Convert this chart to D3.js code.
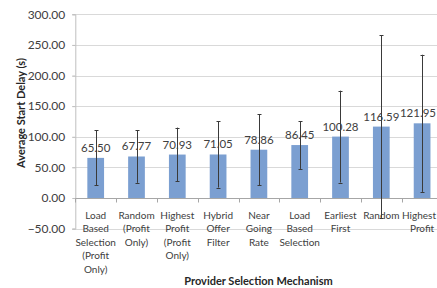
<!DOCTYPE html>
<html>
<head>
<meta charset="utf-8">
<script src="https://cdn.jsdelivr.net/npm/d3@7"></script>
<style>
  body { margin: 0; background: #fff; }
  svg { display: block; font-family: Lato, "Open Sans", sans-serif; }
</style>
</head>
<body>
<div id="chart"></div>
<script>
// category labels, split into lines
var categories = [
  ["Load", "Based", "Selection", "(Profit", "Only)"],
  ["Random", "(Profit", "Only)"],
  ["Highest", "Profit", "(Profit", "Only)"],
  ["Hybrid", "Offer", "Filter"],
  ["Near", "Going", "Rate"],
  ["Load", "Based", "Selection"],
  ["Earliest", "First"],
  ["Random"],
  ["Highest", "Profit"]
];
var values = [65.50, 67.77, 70.93, 71.05, 78.86, 86.45, 100.28, 116.59, 121.95];
var errors = [45, 43, 44, 54, 58, 39, 75, 149, 112];
var yTicks = [-50, 0, 50, 100, 150, 200, 250, 300];

var svgWidth = 437;
var svgHeight = 288;

var svg = d3.select("#chart")
  .append("svg")
  .attr("width", svgWidth)
  .attr("height", svgHeight);

var plotLeft = 75.3;
var band = 40.8;

var x = d3.scaleBand()
  .domain(d3.range(categories.length))
  .range([plotLeft, plotLeft + band * categories.length])
  .paddingInner(0.59)
  .paddingOuter(0.295);

var y = d3.scaleLinear()
  .domain([-50, 300])
  .range([228.6, 14.3]);

var xRight = plotLeft + band * categories.length;

// keeps a middle-anchored text inside the window
function keepInside(sel) {
  sel.each(function() {
    var w = this.getComputedTextLength();
    var cx = +this.getAttribute("x");
    if (cx + w / 2 > svgWidth - 1) {
      this.setAttribute("x", svgWidth - 1 - w / 2);
    }
  });
}

// gridlines
svg.append("g")
  .selectAll("line")
  .data(yTicks.filter(d => d !== 0))
  .enter()
  .append("line")
  .attr("x1", plotLeft - 3)
  .attr("x2", xRight)
  .attr("y1", d => Math.round(y(d)) + 0.5)
  .attr("y2", d => Math.round(y(d)) + 0.5)
  .attr("stroke", "#d9d9d9")
  .attr("stroke-width", 1);

// y axis
var yAxis = d3.axisLeft(y)
  .tickValues(yTicks)
  .tickSize(3)
  .tickPadding(7)
  .tickFormat(d3.format(".2f"));

var yG = svg.append("g")
  .attr("transform", `translate(${plotLeft}, 0)`)
  .call(yAxis);
yG.select(".domain").attr("stroke", "#bfbfbf");
yG.selectAll(".tick line").attr("stroke", "#bfbfbf");
yG.selectAll(".tick text")
  .attr("fill", "#404040")
  .style("font-size", "12px")
  .style("font-family", "Lato, sans-serif");

// bars
svg.append("g")
  .selectAll("rect")
  .data(values)
  .enter()
  .append("rect")
  .attr("x", (d, i) => x(i))
  .attr("width", x.bandwidth())
  .attr("y", d => y(d))
  .attr("height", d => y(0) - y(d))
  .attr("fill", "#7b9fd1");

// zero axis with category ticks
var zeroY = Math.round(y(0)) + 0.5;
svg.append("line")
  .attr("x1", plotLeft)
  .attr("x2", xRight)
  .attr("y1", zeroY)
  .attr("y2", zeroY)
  .attr("stroke", "#a6a6a6");

svg.append("g")
  .selectAll("line")
  .data(d3.range(categories.length + 1))
  .enter()
  .append("line")
  .attr("x1", i => Math.round(plotLeft + i * band) + 0.5)
  .attr("x2", i => Math.round(plotLeft + i * band) + 0.5)
  .attr("y1", zeroY)
  .attr("y2", zeroY + 4)
  .attr("stroke", "#a6a6a6");

// error bars
var eb = svg.append("g")
  .selectAll("g")
  .data(values)
  .enter()
  .append("g")
  .attr("stroke", "#3a3a3a")
  .attr("stroke-width", 1);

var cx = i => Math.round(x(i) + x.bandwidth() / 2) + 0.5;

eb.append("line")
  .attr("x1", (d, i) => cx(i))
  .attr("x2", (d, i) => cx(i))
  .attr("y1", (d, i) => y(d + errors[i]))
  .attr("y2", (d, i) => y(d - errors[i]));
eb.append("line")
  .attr("x1", (d, i) => cx(i) - 2)
  .attr("x2", (d, i) => cx(i) + 2)
  .attr("y1", (d, i) => Math.round(y(d + errors[i])) + 0.5)
  .attr("y2", (d, i) => Math.round(y(d + errors[i])) + 0.5);
eb.append("line")
  .attr("x1", (d, i) => cx(i) - 2)
  .attr("x2", (d, i) => cx(i) + 2)
  .attr("y1", (d, i) => Math.round(y(d - errors[i])) + 0.5)
  .attr("y2", (d, i) => Math.round(y(d - errors[i])) + 0.5);

// value labels
svg.append("g")
  .selectAll("text")
  .data(values)
  .enter()
  .append("text")
  .attr("x", (d, i) => x(i) + x.bandwidth() / 2)
  .attr("y", d => y(d) - 6)
  .attr("text-anchor", "middle")
  .attr("fill", "#404040")
  .style("font-size", "11.5px")
  .text(d => d.toFixed(2))
  .call(keepInside);

// category labels
var catG = svg.append("g")
  .selectAll("text")
  .data(categories)
  .enter()
  .append("text")
  .attr("text-anchor", "middle")
  .attr("fill", "#404040")
  .style("font-size", "10px");

catG.selectAll("tspan")
  .data((d, i) => d.map(t => ({ t: t, i: i })))
  .enter()
  .append("tspan")
  .attr("x", d => x(d.i) + x.bandwidth() / 2)
  .attr("y", (d, j) => 219 + j * 13.4)
  .text(d => d.t)
  .call(keepInside);

// axis titles
svg.append("text")
  .attr("transform", "translate(25, 113) rotate(-90)")
  .attr("text-anchor", "middle")
  .attr("fill", "#262626")
  .style("font-size", "11px")
  .style("font-weight", "bold")
  .text("Average Start Delay (s)");

svg.append("text")
  .attr("x", 258.5)
  .attr("y", 284.5)
  .attr("text-anchor", "middle")
  .attr("fill", "#262626")
  .style("font-size", "11px")
  .style("font-weight", "bold")
  .text("Provider Selection Mechanism");
</script>
</body>
</html>
